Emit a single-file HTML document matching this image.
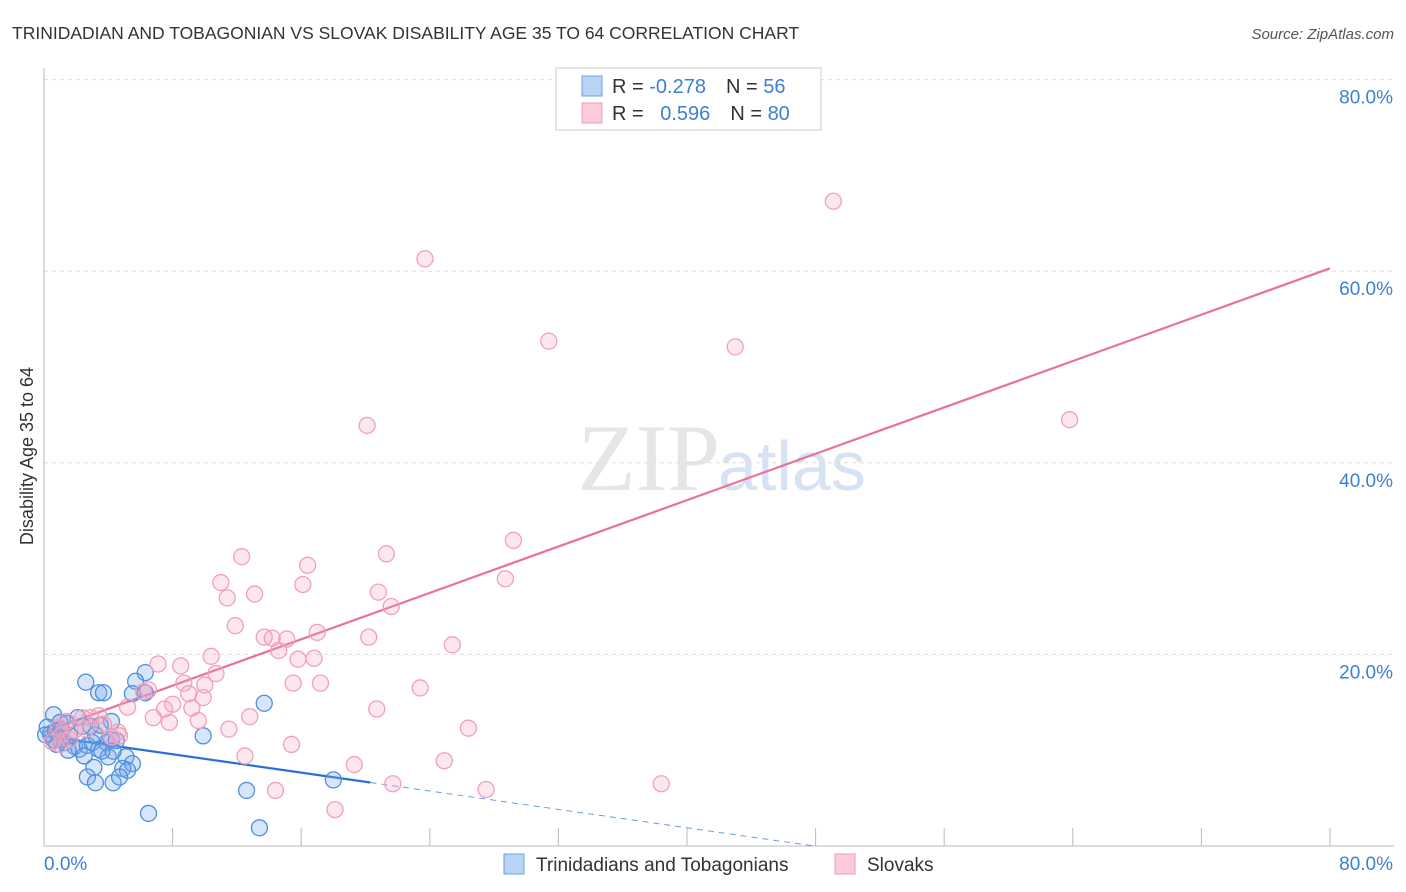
<!DOCTYPE html>
<html><head><meta charset="utf-8"><style>
body{margin:0;background:#fff;font-family:"Liberation Sans",sans-serif;}
svg{display:block}
</style></head><body>
<svg width="1406" height="892" id="chart">
<text x="12" y="39" font-size="17.5" fill="#333">TRINIDADIAN AND TOBAGONIAN VS SLOVAK DISABILITY AGE 35 TO 64 CORRELATION CHART</text>
<text x="1394" y="39" font-size="15" fill="#555" font-style="italic" text-anchor="end">Source: ZipAtlas.com</text>
<text x="0" y="0" transform="translate(33,456) rotate(-90)" font-size="18" fill="#333" text-anchor="middle">Disability Age 35 to 64</text>
<text x="720" y="490" font-size="95" fill="#e6e6e6" font-family="Liberation Serif,serif" text-anchor="end">ZIP</text>
<text x="718" y="490" font-size="70" fill="#d5e3f3" text-anchor="start">atlas</text>
<g id="grid"></g><g id="axes"></g><g id="lines"></g><g id="pts"></g>
<g>
<rect x="556" y="68" width="265" height="62" fill="#fff" stroke="#ccc"/>
<rect x="582" y="76" width="20" height="20" fill="#b8d4f5" stroke="#6aa0de"/>
<text x="612" y="93" font-size="20" fill="#333">R = <tspan fill="#3d7fd4">-0.278</tspan><tspan dx="20">N = </tspan><tspan fill="#3d7fd4">56</tspan></text>
<rect x="582" y="103" width="20" height="20" fill="#fbcbd9" stroke="#f09bb6"/>
<text x="612" y="120" font-size="20" fill="#333">R = <tspan fill="#3d7fd4" dx="11">0.596</tspan><tspan dx="20">N = </tspan><tspan fill="#3d7fd4">80</tspan></text>
</g>
<g>
<rect x="504" y="854" width="20" height="20" fill="#b8d4f5" stroke="#6aa0de"/>
<text x="536" y="871" font-size="19" fill="#333">Trinidadians and Tobagonians</text>
<rect x="835" y="854" width="20" height="20" fill="#fbcbd9" stroke="#f09bb6"/>
<text x="867" y="871" font-size="19" fill="#333">Slovaks</text>
</g>
</svg>
<script>
const yTicks=[0,20,40,60,80];
const yTickLabels=["","20.0%","40.0%","60.0%","80.0%"];
const blueX=[0.6,2.6,3.4,3.7,6.3,5.7,5.5,6.3,13.7,4.2,2.1,2.9,9.9,0.2,0.4,0.7,1.0,1.3,1.6,1.9,2.2,2.7,3.0,3.4,3.9,4.2,4.5,0.6,1.1,3.2,2.5,4.0,5.1,5.5,4.9,5.2,3.1,2.7,3.2,4.3,4.7,6.5,12.6,13.4,18.0,1.4,2.4,3.5,1.5,0.8,4.3,3.6,0.1,1.0];
const blueY=[13.7,17.1,16.0,16.0,18.1,17.2,15.9,16.0,14.9,13.0,13.4,12.5,11.5,12.4,11.7,12.0,11.1,10.8,11.5,10.4,10.1,10.5,10.8,10.1,10.8,11.1,11.0,11.1,12.1,11.6,9.4,9.3,9.3,8.6,8.1,7.9,8.2,7.2,6.6,6.6,7.2,3.4,5.8,1.9,6.9,12.8,12.5,12.6,10.0,10.6,9.9,9.9,11.6,12.9];
const pinkX=[49.1,23.7,31.4,43.0,63.8,20.1,29.2,12.3,21.3,16.4,11.0,16.1,28.7,11.4,13.1,20.8,21.6,11.9,17.0,13.7,14.2,15.1,20.2,25.4,14.6,10.4,15.8,16.8,8.5,7.1,10.7,15.5,17.2,23.4,10.0,8.7,6.5,6.2,9.0,8.0,9.9,20.7,7.5,9.2,5.2,6.8,12.8,9.6,7.8,2.9,3.4,1.4,4.6,11.5,26.4,4.7,3.7,1.9,2.4,1.1,0.5,12.5,15.4,24.9,19.3,14.4,21.7,27.5,38.4,18.1,1.0,1.6,4.2,0.9,2.6];
const pinkY=[67.3,61.3,52.7,52.1,44.5,43.9,31.9,30.2,30.5,29.3,27.5,27.3,27.9,25.9,26.3,26.5,25.0,23.0,22.3,21.8,21.7,21.6,21.8,21.0,20.4,19.8,19.5,19.6,18.8,19.0,18.0,17.0,17.0,16.5,16.8,17.0,16.3,16.1,15.9,14.8,15.5,14.3,14.3,14.4,14.5,13.4,13.5,13.1,12.9,13.4,13.6,13.0,11.9,12.2,12.3,11.5,12.7,12.1,13.4,11.6,10.9,9.4,10.6,8.9,8.5,5.8,6.5,5.9,6.5,3.8,10.6,11.1,11.4,12.4,12.2];
const pinkA=11.9, pinkB=0.605, blueA=11.5, blueB=-0.24;
const X=v=>44+v*16.075, Y=v=>846-v*9.58;
const ns="http://www.w3.org/2000/svg";
function mk(tag,attrs,parent){const e=document.createElementNS(ns,tag);for(const k in attrs)e.setAttribute(k,attrs[k]);document.getElementById(parent).appendChild(e);return e;}
yTicks.forEach((t,i)=>{
 if(t>0){const g=mk('line',{x1:44,x2:1394,y1:Y(t),y2:Y(t),stroke:'#ddd','stroke-dasharray':'4,4'},'grid');
 
 
 const tx=mk('text',{x:1393,y:Y(t)+24,'font-size':19,fill:'#3d7fd4','text-anchor':'end'},'grid');tx.textContent=yTickLabels[i];
 
 }
});
const ax=mk('line',{x1:44,x2:44,y1:68,y2:846,stroke:'#bbb'},'axes');


const bx=mk('line',{x1:44,x2:1394,y1:846,y2:846,stroke:'#bbb'},'axes');


for(let i=0;i<=10;i++){const t=mk('line',{x1:X(i*8),x2:X(i*8),y1:828,y2:846,stroke:'#bbb'},'axes');

}
const l0=mk('text',{x:44,y:870,'font-size':19,fill:'#3d7fd4'},'axes');l0.textContent='0.0%';


const l1=mk('text',{x:1393,y:870,'font-size':19,fill:'#3d7fd4','text-anchor':'end'},'axes');l1.textContent='80.0%';


blueX.forEach((x,i)=>{const c=mk('circle',{cx:X(x),cy:Y(blueY[i]),r:8,fill:'rgba(120,170,235,0.3)',stroke:'#4f8fdc','stroke-width':1.3},'pts');

});
pinkX.forEach((x,i)=>{const c=mk('circle',{cx:X(x),cy:Y(pinkY[i]),r:8,fill:'rgba(245,160,190,0.25)',stroke:'#f2a0ba','stroke-width':1.3},'pts');

});
const pl=mk('line',{x1:X(0),y1:Y(pinkA),x2:X(80),y2:Y(pinkA+pinkB*80),stroke:'#e8719b','stroke-width':2.2},'lines');


const bl=mk('line',{x1:X(0),y1:Y(blueA),x2:X(20.3),y2:Y(blueA+blueB*20.3),stroke:'#2b6fd6','stroke-width':2.2},'lines');


const xe=-blueA/blueB;
const bd=mk('line',{x1:X(20.3),y1:Y(blueA+blueB*20.3),x2:X(xe),y2:Y(0),stroke:'#6a9de0','stroke-width':1,'stroke-dasharray':'6,5'},'lines');


</script>
</body></html>
